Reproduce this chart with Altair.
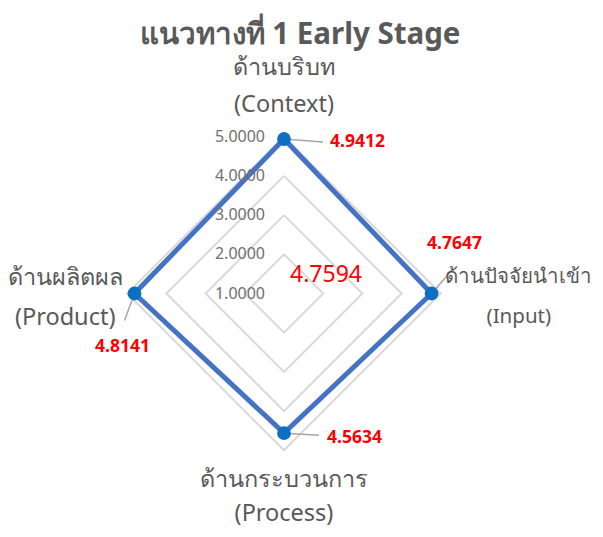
import math
import altair as alt
import pandas as pd

# ---------------- data ----------------
title_text = "แนวทางที่ 1 Early Stage"
thai_names = ["ด้านบริบท", "ด้านปัจจัยนำเข้า", "ด้านกระบวนการ", "ด้านผลิตผล"]
eng_names = ["(Context)", "(Input)", "(Process)", "(Product)"]
values = [4.9412, 4.7647, 4.5634, 4.8141]
mean_value = 4.7594
ticks = [1, 2, 3, 4, 5]
axis_min, axis_max = 1, 5

# ---------------- layout / style ----------------
FONT = "Noto Sans, DejaVu Sans, sans-serif"
GREY = "#595959"
W, H = 587, 521
S = 39.2                 # px per unit of radius
CX, CY = 276, 285.5      # centre inside the plot area (px)
xdom = [-CX / S, (W - CX) / S]
ydom = [-(H - CY) / S, CY / S]

n = len(values)
cats = pd.DataFrame({"idx": list(range(n)), "th": thai_names, "en": eng_names,
                     "value": values})
poly = pd.DataFrame({"idx": list(range(n + 1)),
                     "value": values + values[:1]})
grid = pd.DataFrame([{"tick": t, "idx": k} for t in ticks[1:] for k in range(n + 1)])
tick_df = pd.DataFrame({"tick": ticks})
mean_df = pd.DataFrame({"value": [mean_value]})

ANG = f"PI/2 - datum.idx*2*PI/{n}"
X = alt.X("x:Q", scale=alt.Scale(domain=xdom), axis=None)
Y = alt.Y("y:Q", scale=alt.Scale(domain=ydom), axis=None)


def polar(ch, rexpr):
    return ch.transform_calculate(
        ang=ANG,
        r=rexpr,
    ).transform_calculate(
        x="datum.r*cos(datum.ang)",
        y="datum.r*sin(datum.ang)",
    )


gridlines = polar(alt.Chart(grid), f"datum.tick - {axis_min}").mark_line(
    color="#d9d9d9", strokeWidth=2
).encode(x=X, y=Y, detail="tick:N", order="idx:Q")

series = polar(alt.Chart(poly), f"datum.value - {axis_min}").mark_line(
    color="#4472C4", strokeWidth=5, strokeJoin="miter"
).encode(x=X, y=Y, order="idx:Q")

points = polar(alt.Chart(cats), f"datum.value - {axis_min}").mark_point(
    filled=True, opacity=1, color="#0B6FC2", size=190, shape="circle"
).encode(x=X, y=Y)

tick_labels = alt.Chart(tick_df).transform_calculate(
    x="0", y=f"datum.tick - {axis_min}", label="format(datum.tick, '.4f')"
).mark_text(align="right", baseline="middle", dx=-19, font=FONT, fontSize=16,
            color="#707070").encode(x=X, y=Y, text="label:N")

# per-category label styles: (dx, dy, align) for the value, leader (px right, px down),
# and category label (first line) offset from the outer grid vertex, line height, size
val_style = [(46, 3, "left"), (23, -50, "center"), (43, 5, "left"), (-12, 53, "center")]
lead_style = [(39, 3), (21, -24), (35, 2), (-10, 27)]
cat_style = [(0, -68.5, 37, 23.5), (78, -16.5, 40, 20.5), (0, 30, 34, 23.5),
             (-62, -15.5, 40, 23.5)]

layers = [gridlines, series, tick_labels]
for i in range(n):
    base = polar(alt.Chart(cats).transform_filter(f"datum.idx == {i}"),
                 f"datum.value - {axis_min}")
    lx, ly = lead_style[i]
    leader = base.transform_calculate(
        x2=f"datum.x + {lx / S}", y2=f"datum.y - {ly / S}"
    ).mark_rule(color="#a6a6a6", strokeWidth=1.5).encode(
        x=X, y=Y, x2="x2:Q", y2="y2:Q")
    dx, dy, al = val_style[i]
    vlab = base.transform_calculate(label="format(datum.value, '.4f')").mark_text(
        align=al, baseline="middle", dx=dx, dy=dy, font=FONT, fontSize=17.5,
        fontWeight="bold", color="#FF0000").encode(x=X, y=Y, text="label:N")
    cdx, cdy, lh, fs = cat_style[i]
    clab = polar(alt.Chart(cats).transform_filter(f"datum.idx == {i}"),
                 f"{axis_max - axis_min}").transform_calculate(
        label="datum.th + '\\n' + datum.en"
    ).mark_text(align="center", baseline="middle", dx=cdx, dy=cdy, font=FONT,
                fontSize=fs, color=GREY, lineBreak="\n", lineHeight=lh).encode(
        x=X, y=Y, text="label:N")
    layers += [leader, vlab, clab]

layers.append(points)

mean_label = alt.Chart(mean_df).transform_calculate(
    x="0", y="0", label="format(datum.value, '.4f')"
).mark_text(align="center", baseline="middle", dx=42, dy=-18.5, font=FONT,
            fontSize=23, color="#FF0000").encode(x=X, y=Y, text="label:N")
layers.append(mean_label)

title = alt.Chart(pd.DataFrame({"t": [title_text]})).mark_text(
    align="center", baseline="middle", font=FONT, fontSize=29.5, fontWeight="bold",
    color=GREY).encode(x=alt.value(292), y=alt.value(27), text="t:N")
layers.append(title)

chart = alt.layer(*layers).properties(
    width=W, height=H, autosize=alt.AutoSizeParams(type="none"), padding=0
).configure(background="white", view=alt.ViewConfig(stroke=None))

chart.save("out.html", embed_options={"renderer": "svg", "actions": False})
